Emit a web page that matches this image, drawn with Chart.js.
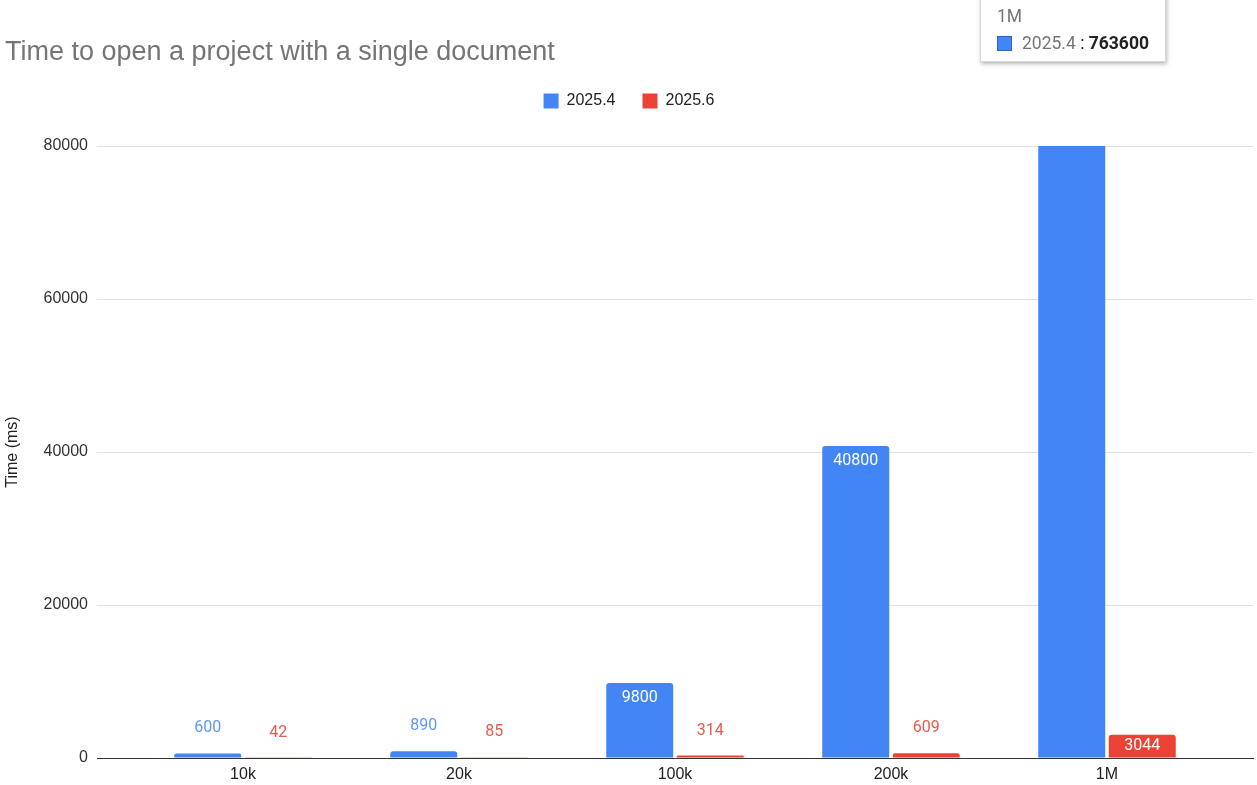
<!DOCTYPE html>
<html>
<head>
<meta charset="utf-8">
<script src="https://cdn.jsdelivr.net/npm/chart.js@4/dist/chart.umd.min.js"></script>
<style>
  html, body { margin: 0; padding: 0; background: #fff; }
  #wrap { position: relative; width: 1257px; height: 785px; overflow: hidden; }
  #tip {
    position: absolute; left: 980px; top: -20px; width: 186px; height: 82px;
    background: #fff; border: 1px solid #d6d6d6; box-sizing: border-box;
    box-shadow: 1px 2px 4px rgba(0,0,0,0.28);
    font-family: Roboto, "Liberation Sans", sans-serif; font-size: 17.5px;
  }
  #tip .cat { position: absolute; left: 16px; top: 25px; color: #757575; }
  #tip .sw { position: absolute; left: 16px; top: 55px; width: 15px; height: 15px; background: #4285F4; border: 1px solid #2a64c8; box-sizing: border-box; }
  #tip .row { position: absolute; left: 41px; top: 52px; color: #757575; white-space: nowrap; }
  #tip .row b { color: #222; }
  #tip .row .sep { color: #222; }
</style>
</head>
<body>
<div id="wrap">
  <canvas id="c" width="1257" height="785"></canvas>
  <div id="tip"><span class="cat">1M</span><span class="sw"></span><span class="row">2025.4<span class="sep"> : </span><b>763600</b></span></div>
</div>
<script>
const categories = ['10k', '20k', '100k', '200k', '1M'];
const seriesNames = ['2025.4', '2025.6'];
const values2025_4 = [600, 890, 9800, 40800, 763600];
const values2025_6 = [42, 85, 314, 609, 3044];
const yTicks = [0, 20000, 40000, 60000, 80000];

const barColors = ['#4285F4', '#EA4335'];
const labelColors = ['#5f97f3', '#e65b4e'];

const toPoints = (arr) => arr.map((v, i) => ({ x: i, y: v }));

const labelPlugin = {
  id: 'barLabels',
  afterDatasetsDraw(chart) {
    const ctx = chart.ctx;
    const yScale = chart.scales.y;
    ctx.save();
    ctx.font = '16px Roboto, "Liberation Sans", sans-serif';
    ctx.textAlign = 'center';
    ctx.textBaseline = 'middle';
    chart.data.datasets.forEach((ds, di) => {
      const meta = chart.getDatasetMeta(di);
      meta.data.forEach((el, i) => {
        const v = ds.data[i].y;
        if (v > yScale.max) return;
        const top = el.y, base = el.base;
        const h = base - top;
        let y;
        if (h >= 20) {
          ctx.fillStyle = '#ffffff';
          y = Math.min(top + 15, (top + base) / 2);
        } else {
          ctx.fillStyle = labelColors[di];
          y = top - 25;
        }
        ctx.fillText(String(v), el.x, y);
      });
    });
    ctx.restore();
  }
};

new Chart(document.getElementById('c'), {
  type: 'bar',
  data: {
    datasets: [
      { label: seriesNames[0], data: toPoints(values2025_4), backgroundColor: barColors[0],
        borderRadius: { topLeft: 3, topRight: 3 }, borderSkipped: 'bottom' },
      { label: seriesNames[1], data: toPoints(values2025_6), backgroundColor: barColors[1],
        borderRadius: { topLeft: 3, topRight: 3 }, borderSkipped: 'bottom' }
    ]
  },
  options: {
    responsive: false,
    devicePixelRatio: 1,
    animation: false,
    events: [],
    categoryPercentage: 0.653,
    barPercentage: 0.95,
    layout: { padding: { left: 5, right: 4, top: 0, bottom: 0 } },
    plugins: {
      tooltip: { enabled: false },
      title: {
        display: true, text: 'Time to open a project with a single document', align: 'start',
        color: '#757575', font: { family: '"Liberation Sans", Arial, sans-serif', size: 27, weight: 'normal', lineHeight: 1 },
        padding: { top: 39, bottom: 0 }
      },
      legend: {
        display: true, position: 'top', align: 'center',
        labels: {
          boxWidth: 15, boxHeight: 15, padding: 27, color: '#222',
          font: { family: '"Liberation Sans", Arial, sans-serif', size: 16 }
        }
      }
    },
    scales: {
      x: {
        type: 'linear', position: 'bottom', min: -0.676, max: 4.676, offset: false,
        afterBuildTicks: (s) => { s.ticks = categories.map((_, i) => ({ value: i })); },
        afterFit: (s) => { s.height = 27; },
        ticks: {
          callback: (v) => categories[v], color: '#222', padding: 7, autoSkip: false, maxRotation: 0,
          font: { family: '"Liberation Sans", Arial, sans-serif', size: 16 }
        },
        grid: { display: false, drawTicks: false, offset: false },
        border: { display: true, color: '#333', width: 1 }
      },
      spacer: {
        type: 'linear', position: 'top', display: true,
        afterFit: (s) => { s.height = 27; },
        ticks: { display: false }, grid: { display: false }, border: { display: false }
      },
      y: {
        type: 'linear', min: 0, max: 80000,
        afterBuildTicks: (s) => { s.ticks = yTicks.map(v => ({ value: v })); },
        afterFit: (s) => { s.width = 92; },
        ticks: {
          color: '#333', padding: 9,
          callback: (v) => String(v),
          font: { family: '"Liberation Sans", Arial, sans-serif', size: 16 }
        },
        grid: { color: '#e0e0e0', drawTicks: false },
        border: { display: false },
        title: {
          display: true, text: 'Time (ms)', color: '#222', padding: { top: -2, bottom: 0 },
          font: { family: '"Liberation Sans", Arial, sans-serif', size: 16 }
        }
      }
    }
  },
  plugins: [labelPlugin]
});
</script>
</body>
</html>
